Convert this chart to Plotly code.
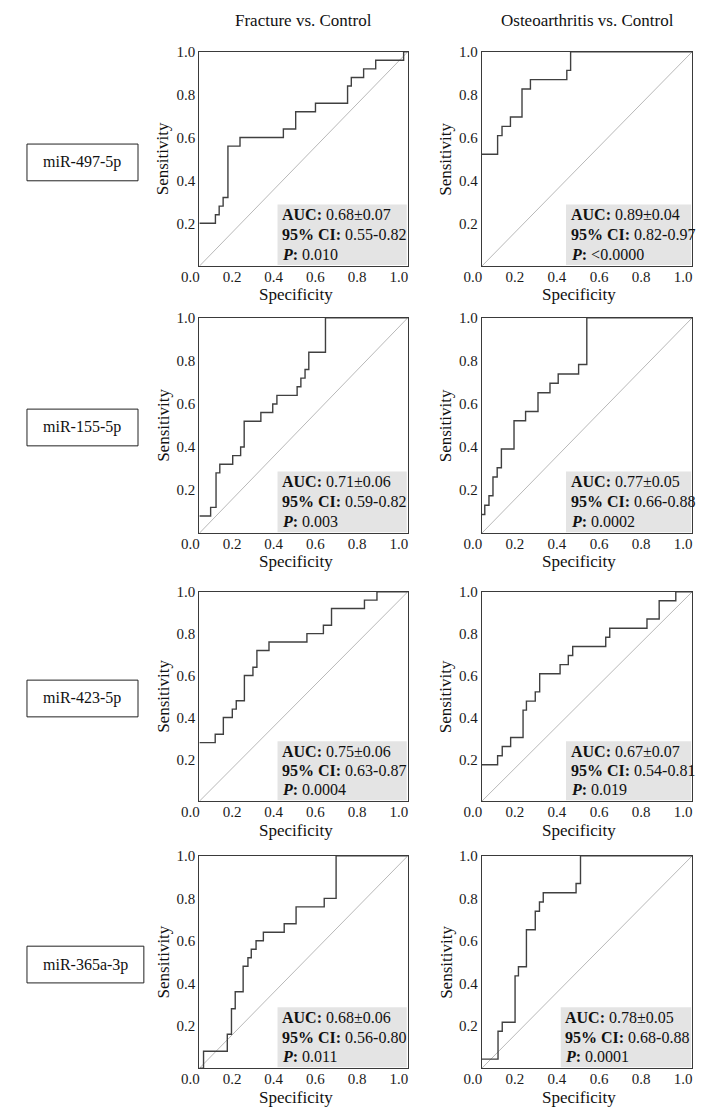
import plotly.graph_objects as go

# The page body has an 8px default margin, so the figure is sized to fit the window exactly
OFF = 8
WIN_W, WIN_H = 708, 1115
W, H = WIN_W - 2 * OFF, WIN_H - 2 * OFF

col_titles = ["Fracture vs. Control", "Osteoarthritis vs. Control"]
row_labels = ["miR-497-5p", "miR-155-5p", "miR-423-5p", "miR-365a-3p"]

# ROC step curves (x = axis position, y = sensitivity)
fpr_497_fx = [0, 0.077, 0.095, 0.114, 0.137, 0.195, 0.403, 0.462, 0.557, 0.711, 0.729, 0.788, 0.846, 0.98, 1.0]
tpr_497_fx = [0.20, 0.24, 0.28, 0.32, 0.56, 0.60, 0.64, 0.72, 0.76, 0.84, 0.88, 0.92, 0.96, 1.0, 1.0]

fpr_497_oa = [0, 0.075, 0.096, 0.136, 0.191, 0.231, 0.404, 0.422, 1.0]
tpr_497_oa = [0.522, 0.609, 0.652, 0.696, 0.826, 0.870, 0.913, 1.0, 1.0]

fpr_155_fx = [0, 0.054, 0.08, 0.098, 0.16, 0.198, 0.215, 0.295, 0.352, 0.372, 0.469, 0.487, 0.507, 0.525, 0.605, 1.0]
tpr_155_fx = [0.08, 0.12, 0.28, 0.32, 0.36, 0.40, 0.52, 0.56, 0.60, 0.64, 0.68, 0.72, 0.76, 0.84, 1.0, 1.0]

fpr_155_oa = [0, 0.014, 0.034, 0.053, 0.073, 0.093, 0.153, 0.208, 0.267, 0.324, 0.363, 0.46, 0.499, 1.0]
tpr_155_oa = [0.087, 0.13, 0.174, 0.261, 0.304, 0.391, 0.522, 0.565, 0.652, 0.696, 0.739, 0.783, 1.0, 1.0]

fpr_423_fx = [0, 0.076, 0.115, 0.158, 0.177, 0.216, 0.257, 0.276, 0.334, 0.516, 0.595, 0.634, 0.792, 0.852, 1.0]
tpr_423_fx = [0.28, 0.32, 0.40, 0.44, 0.48, 0.60, 0.64, 0.72, 0.76, 0.80, 0.84, 0.92, 0.96, 1.0, 1.0]

fpr_423_oa = [0, 0.075, 0.097, 0.137, 0.196, 0.212, 0.254, 0.275, 0.372, 0.411, 0.432, 0.589, 0.608, 0.785, 0.843, 0.922, 1.0]
tpr_423_oa = [0.174, 0.217, 0.261, 0.304, 0.435, 0.478, 0.522, 0.609, 0.652, 0.696, 0.739, 0.783, 0.826, 0.870, 0.957, 1.0, 1.0]

fpr_365_fx = [0, 0.02, 0.134, 0.154, 0.172, 0.21, 0.233, 0.249, 0.272, 0.307, 0.407, 0.464, 0.599, 0.656, 1.0]
tpr_365_fx = [0, 0.08, 0.16, 0.28, 0.36, 0.48, 0.52, 0.56, 0.60, 0.64, 0.68, 0.76, 0.80, 1.0, 1.0]

fpr_365_oa = [0, 0.077, 0.097, 0.158, 0.174, 0.212, 0.254, 0.274, 0.292, 0.448, 0.469, 1.0]
tpr_365_oa = [0.043, 0.174, 0.217, 0.435, 0.478, 0.652, 0.739, 0.783, 0.826, 0.870, 1.0, 1.0]

auc_text = ["0.68±0.07", "0.89±0.04", "0.71±0.06", "0.77±0.05",
            "0.75±0.06", "0.67±0.07", "0.68±0.06", "0.78±0.05"]
ci_text = ["0.55-0.82", "0.82-0.97", "0.59-0.82", "0.66-0.88",
           "0.63-0.87", "0.54-0.81", "0.56-0.80", "0.68-0.88"]
p_text = ["0.010", "<0.0000", "0.003", "0.0002",
          "0.0004", "0.019", "0.011", "0.0001"]

x_ticks = [0.0, 0.2, 0.4, 0.6, 0.8, 1.0]
y_ticks = [0.2, 0.4, 0.6, 0.8, 1.0]

curves = [(fpr_497_fx, tpr_497_fx), (fpr_497_oa, tpr_497_oa),
          (fpr_155_fx, tpr_155_fx), (fpr_155_oa, tpr_155_oa),
          (fpr_423_fx, tpr_423_fx), (fpr_423_oa, tpr_423_oa),
          (fpr_365_fx, tpr_365_fx), (fpr_365_oa, tpr_365_oa)]

# layout geometry in window pixels
rows_px = [(44, 260), (312, 529), (588, 799), (854, 1068)]
cols_px = [(186, 400), (476, 692)]
label_box_px = [(9, 123, 137, 174), (9, 123, 404, 441), (9, 123, 677, 714), (9, 129, 945, 982)]
stat_x0 = [0.375, 0.40, 0.375, 0.40, 0.375, 0.40, 0.375, 0.375]

FONT = "Liberation Serif, Times New Roman, serif"
fig = go.Figure()
annotations = []
shapes = []


def py(v):
    return 1 - (v - OFF) / H


def px(v):
    return (v - OFF) / W


for i, (fx, ty) in enumerate(curves):
    r, c = divmod(i, 2)
    n = i + 1
    xa = "x" if n == 1 else f"x{n}"
    ya = "y" if n == 1 else f"y{n}"
    fig.add_trace(go.Scatter(x=[0, 1], y=[0, 1], mode="lines",
                             line=dict(color="#b8b8b8", width=1),
                             xaxis=xa, yaxis=ya, showlegend=False, hoverinfo="skip"))
    fig.add_trace(go.Scatter(x=fx, y=ty, mode="lines", line_shape="hv",
                             line=dict(color="#404040", width=1.4),
                             xaxis=xa, yaxis=ya, showlegend=False))
    top, bot = rows_px[r]
    left, right = cols_px[c]
    axcommon = dict(range=[0, 1], showgrid=False, zeroline=False, showline=True,
                    linecolor="#3a3a3a", linewidth=1, mirror=True, ticks="",
                    tickfont=dict(family=FONT, size=15, color="#1a1a1a"), fixedrange=True)
    fig.update_layout(**{
        ("xaxis" if n == 1 else f"xaxis{n}"): dict(
            domain=[px(left), px(right)], anchor=ya, tickvals=x_ticks,
            ticktext=[f"{t:.1f}" for t in x_ticks], ticklabelshift=-9,
            ticklabelstandoff=-3, **axcommon),
        ("yaxis" if n == 1 else f"yaxis{n}"): dict(
            domain=[py(bot), py(top)], anchor=xa, tickvals=y_ticks,
            ticktext=[f"{t:.1f}" for t in y_ticks], **axcommon),
    })
    # stats box
    x0 = stat_x0[i]
    shapes.append(dict(type="rect", xref=f"{xa} domain", yref=f"{ya} domain",
                       x0=x0, x1=0.995, y0=0.005, y1=0.287,
                       fillcolor="#e4e4e4", line=dict(width=0), layer="above"))
    lines = [f"<b>AUC:</b> {auc_text[i]}", f"<b>95% CI:</b> {ci_text[i]}",
             f"<b><i>P</i>:</b> {p_text[i]}"]
    for txt, yy in zip(lines, [0.239, 0.147, 0.055]):
        annotations.append(dict(text=txt, xref=f"{xa} domain", yref=f"{ya} domain",
                                x=x0 + 0.012, y=yy, xanchor="left", yanchor="middle",
                                showarrow=False,
                                font=dict(family=FONT, size=16, color="#111")))
    # axis titles
    annotations.append(dict(text="Specificity", xref="paper", yref="paper",
                            x=px((left + right) / 2 - 8), y=py(bot + 29), xanchor="center",
                            yanchor="middle", showarrow=False,
                            font=dict(family=FONT, size=17, color="#111")))
    annotations.append(dict(text="Sensitivity", xref="paper", yref="paper",
                            x=px(left - 37), y=py((top + bot) / 2), xanchor="center",
                            yanchor="middle", textangle=-90, showarrow=False,
                            font=dict(family=FONT, size=17, color="#111")))

for c, t in enumerate(col_titles):
    left, right = cols_px[c]
    annotations.append(dict(text=t, xref="paper", yref="paper",
                            x=px((left + right) / 2), y=py(13), xanchor="center",
                            yanchor="middle", showarrow=False,
                            font=dict(family=FONT, size=17, color="#111")))

for lab, (x0, x1, y0, y1) in zip(row_labels, label_box_px):
    shapes.append(dict(type="rect", xref="paper", yref="paper",
                       x0=px(x0), x1=px(x1), y0=py(y1), y1=py(y0),
                       line=dict(color="#222", width=1), fillcolor="white"))
    annotations.append(dict(text=lab, xref="paper", yref="paper",
                            x=px((x0 + x1) / 2), y=py((y0 + y1) / 2),
                            xanchor="center", yanchor="middle", showarrow=False,
                            font=dict(family=FONT, size=16, color="#111")))

fig.update_layout(width=W, height=H, margin=dict(l=0, r=0, t=0, b=0),
                  paper_bgcolor="white", plot_bgcolor="white",
                  annotations=annotations, shapes=shapes, showlegend=False)

fig.write_html("out.html")
